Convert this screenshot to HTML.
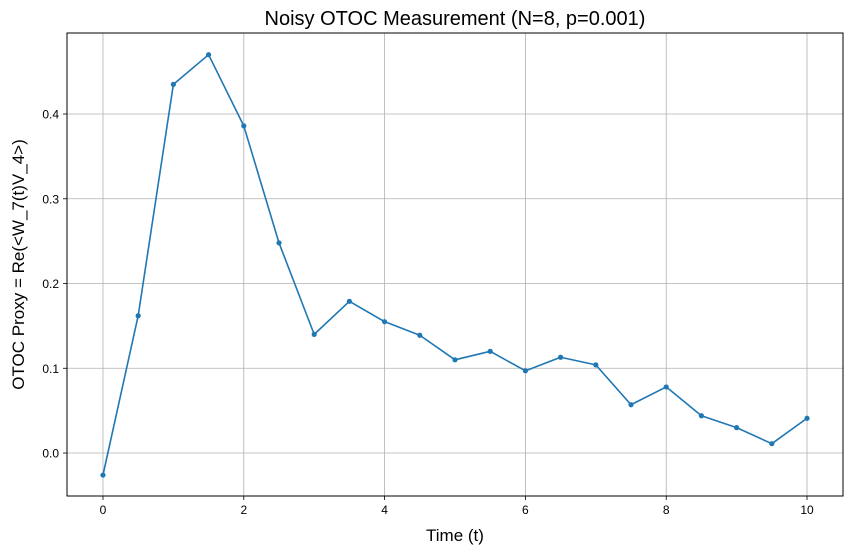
<!DOCTYPE html>
<html>
<head>
<meta charset="utf-8">
<style>
  html, body { margin: 0; padding: 0; background: #fff; }
  svg { display: block; font-family: "Liberation Sans", "DejaVu Sans", sans-serif; }
</style>
</head>
<body>
<svg id="chart" width="852" height="554" viewBox="0 0 852 554">
  <rect x="0" y="0" width="852" height="554" fill="#fff"></rect>
  <g id="grid"></g>
  <g id="series"></g>
  <rect x="67" y="33" width="776" height="463" fill="none" stroke="#000" stroke-width="1"></rect>
  <g id="xticks"></g>
  <g id="yticks"></g>
  <text x="455" y="25" text-anchor="middle" font-size="20" fill="#000">Noisy OTOC Measurement (N=8, p=0.001)</text>
  <text x="455" y="541" text-anchor="middle" font-size="17" fill="#000">Time (t)</text>
  <text x="0" y="0" transform="translate(24,264.5) rotate(-90)" text-anchor="middle" font-size="17" fill="#000">OTOC Proxy = Re(&lt;W_7(t)V_4&gt;)</text>
</svg>
<script>
const times = [0,0.5,1,1.5,2,2.5,3,3.5,4,4.5,5,5.5,6,6.5,7,7.5,8,8.5,9,9.5,10];
const otocValues = [-0.026,0.162,0.435,0.470,0.386,0.248,0.140,0.179,0.155,0.139,0.110,0.120,0.097,0.113,0.104,0.057,0.078,0.044,0.030,0.011,0.041];
const xTickValues = [0,2,4,6,8,10];
const yTickValues = [0.0,0.1,0.2,0.3,0.4];
const yTickLabels = ["0.0","0.1","0.2","0.3","0.4"];

const L = 67, R = 843, T = 33, B = 496;
const xMin = -0.511, xMax = 10.511, yMin = -0.0507, yMax = 0.4956;
function xScale(v) { return L + (v - xMin) / (xMax - xMin) * (R - L); }
function yScale(v) { return B - (v - yMin) / (yMax - yMin) * (B - T); }

const NS = "http://www.w3.org/2000/svg";
function mk(tag, attrs, parent) {
  const el = document.createElementNS(NS, tag);
  for (const k in attrs) el.setAttribute(k, attrs[k]);
  parent.appendChild(el);
  return el;
}
const grid = document.getElementById('grid');
const xt = document.getElementById('xticks');
const yt = document.getElementById('yticks');
const series = document.getElementById('series');

xTickValues.forEach(v => {
  const x = xScale(v);
  const g = mk('line', {x1:x, x2:x, y1:T, y2:B, stroke:'#b0b0b0', 'stroke-width':0.8}, grid);
  
  
  const t = mk('line', {x1:x, x2:x, y1:B, y2:B+4, stroke:'#000', 'stroke-width':0.8}, xt);
  
  
  const lb = mk('text', {x:x, y:B+18, 'text-anchor':'middle', 'font-size':12, fill:'#000'}, xt);
  lb.textContent = String(v);
  
  
});
yTickValues.forEach((v, i) => {
  const y = yScale(v);
  const g = mk('line', {x1:L, x2:R, y1:y, y2:y, stroke:'#b0b0b0', 'stroke-width':0.8}, grid);
  
  
  const t = mk('line', {x1:L-4, x2:L, y1:y, y2:y, stroke:'#000', 'stroke-width':0.8}, yt);
  
  
  const lb = mk('text', {x:L-8, y:y+4.5, 'text-anchor':'end', 'font-size':12, fill:'#000'}, yt);
  lb.textContent = yTickLabels[i];
  
  
});

const pts = times.map((t, i) => xScale(t) + ',' + yScale(otocValues[i])).join(' ');
const line = mk('polyline', {points:pts, fill:'none', stroke:'#1f77b4', 'stroke-width':1.6, 'stroke-linejoin':'round'}, series);


times.forEach((t, i) => {
  const c = mk('circle', {cx:xScale(t), cy:yScale(otocValues[i]), r:2.6, fill:'#1f77b4'}, series);
  
  
});
</script>
</body>
</html>
